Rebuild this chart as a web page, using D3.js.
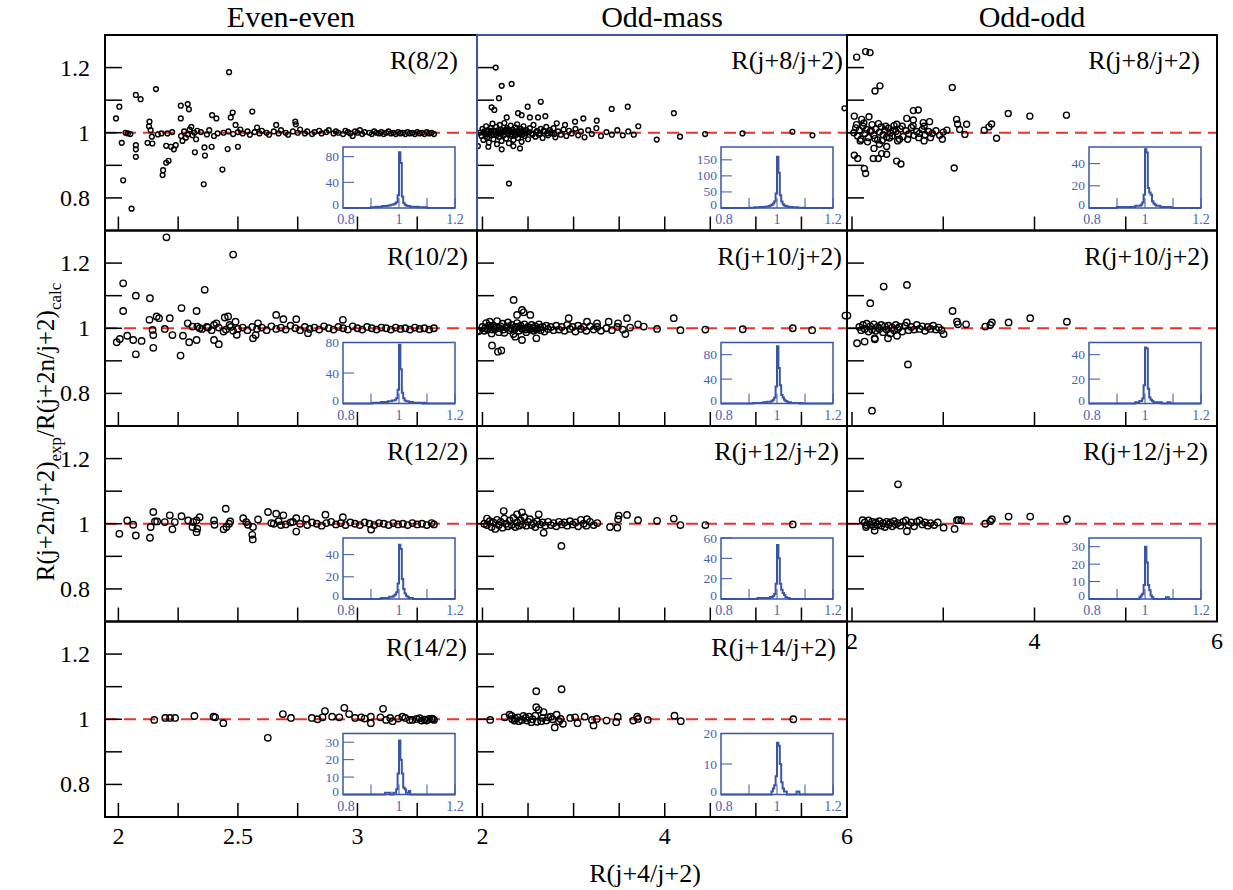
<!DOCTYPE html>
<html>
<head>
<meta charset="utf-8">
<script src="https://cdn.jsdelivr.net/npm/d3@7"></script>
<style>
  body { margin: 0; background: #fff; }
</style>
</head>
<body>
<svg id="chart" width="1233" height="890" font-family="'Liberation Serif', 'Times New Roman', 'DejaVu Serif', serif"></svg>
<script>
// ---- scatter data: [R(j+4/j+2), ratio exp/calc] ----
const evenEven8 = [
  [1.990,1.044],[2.004,1.080],[2.014,0.969],[2.020,0.854],[2.055,0.767],[2.030,1.000],[2.040,0.998],[2.050,0.996],
  [2.073,1.116],[2.093,1.103],[2.073,0.962],[2.073,0.949],[2.073,0.926],[2.122,0.969],[2.130,1.034],[2.128,1.020],
  [2.135,1.008],[2.140,0.988],[2.142,0.967],[2.157,1.134],[2.187,0.885],[2.185,0.870],[2.200,0.908],[2.210,0.914],
  [2.200,0.960],[2.220,0.957],[2.232,0.949],[2.240,0.962],[2.165,0.995],[2.180,0.998],[2.205,0.998],[2.225,1.002],
  [2.261,1.083],[2.261,1.044],[2.290,1.088],[2.295,1.072],[2.262,0.990],[2.268,0.975],[2.275,1.004],[2.282,0.985],
  [2.290,0.995],[2.298,1.010],[2.305,1.018],[2.310,0.992],[2.318,1.000],[2.325,0.980],[2.330,1.006],[2.320,0.940],
  [2.357,0.842],[2.360,0.955],[2.362,0.930],[2.390,0.957],[2.392,1.054],[2.410,1.044],[2.345,1.002],[2.370,0.995],
  [2.380,1.008],[2.400,0.990],[2.415,0.998],[2.435,0.887],[2.457,0.950],[2.463,1.186],[2.470,1.047],[2.478,1.062],
  [2.490,1.024],[2.500,0.957],[2.560,1.065],[2.580,1.016],[2.660,1.024],[2.740,1.034],[2.742,1.026],[2.980,0.990],
  [2.44,1.000],[2.46,1.004],[2.48,0.996],[2.50,1.002],[2.51,1.010],[2.52,0.998],[2.54,1.004],[2.55,0.994],
  [2.57,1.002],[2.59,0.998],[2.60,1.006],[2.62,1.000],[2.63,0.994],[2.65,1.004],[2.67,0.998],[2.68,1.008],
  [2.70,1.000],[2.71,0.994],[2.73,1.004],[2.75,1.000],[2.76,1.010],[2.78,0.998],[2.79,1.004],[2.81,0.996],
  [2.82,1.002],[2.84,1.006],[2.85,0.998],[2.87,1.002],[2.88,1.008],[2.90,0.998],[2.91,1.004],[2.92,1.000],
  [2.94,0.996],[2.95,1.006],[2.96,1.002],[2.97,0.998],[2.99,1.004],[3.00,1.000],[3.01,1.008],[3.02,0.996],
  [3.03,1.002],[3.05,1.000],[3.06,0.996],[3.07,1.004],[3.08,1.000],[3.09,0.998],[3.10,1.002],[3.11,0.996],
  [3.12,1.000],[3.13,1.004],[3.14,0.998],[3.15,1.000],[3.16,0.996],[3.17,1.002],[3.18,0.998],[3.19,1.000],
  [3.20,0.996],[3.21,1.002],[3.22,0.998],[3.23,1.000],[3.24,0.996],[3.25,1.002],[3.26,0.998],[3.27,1.000],
  [3.28,0.996],[3.29,1.002],[3.30,0.998],[3.31,1.000],[3.32,0.996]
];
const evenEven10 = [
  [2.201,1.279],[2.480,1.226],[2.020,1.138],[2.020,1.053],[2.073,1.100],[2.132,1.092],[2.361,1.118],[2.264,1.062],
  [2.327,1.053],[2.130,1.026],[2.160,1.036],[2.170,1.031],[2.215,1.031],[1.993,0.957],[2.006,0.967],[2.037,0.977],
  [2.062,0.964],[2.097,0.961],[2.073,0.920],[2.146,0.940],[2.143,0.995],[2.146,0.979],[2.194,0.998],[2.226,0.979],
  [2.260,0.916],[2.270,0.977],[2.296,0.957],[2.327,0.964],[2.290,1.015],[2.310,1.005],[2.330,1.005],[2.340,1.000],
  [2.375,1.002],[2.400,1.010],[2.410,1.015],[2.400,0.964],[2.420,0.951],[2.445,1.033],[2.459,1.036],[2.440,0.990],
  [2.465,1.010],[2.480,0.992],[2.490,1.020],[2.495,0.980],[2.563,0.969],[2.574,0.979],[2.584,1.015],[2.660,1.041],
  [2.690,1.028],[2.744,1.028],[2.793,0.985],[2.939,1.026],
  [2.35,0.998],[2.37,1.004],[2.39,0.994],[2.42,1.002],[2.45,0.996],[2.47,1.004],[2.50,0.998],[2.52,1.002],
  [2.54,0.994],[2.56,1.004],[2.58,0.998],[2.60,1.002],[2.62,0.994],[2.64,1.006],[2.66,0.998],[2.68,1.002],
  [2.70,0.996],[2.72,1.008],[2.74,1.000],[2.76,0.994],[2.78,1.004],[2.80,0.998],[2.82,1.002],[2.84,0.996],
  [2.86,1.006],[2.88,1.000],[2.90,0.996],[2.92,1.004],[2.94,1.000],[2.96,0.996],[2.98,1.006],[3.00,1.000],
  [3.02,0.996],[3.04,1.004],[3.06,1.000],[3.08,0.996],[3.10,1.002],[3.12,1.000],[3.14,0.996],[3.16,1.002],
  [3.18,0.998],[3.20,1.000],[3.22,0.996],[3.24,1.002],[3.26,0.998],[3.28,1.000],[3.30,0.996],[3.32,1.000]
];
const evenEven12 = [
  [2.004,0.969],[2.037,1.010],[2.062,0.997],[2.073,0.964],[2.132,0.957],[2.135,0.990],[2.146,1.036],[2.153,1.007],
  [2.162,1.007],[2.194,1.005],[2.215,1.026],[2.226,0.983],[2.236,1.005],[2.264,1.023],[2.292,1.010],[2.313,1.005],
  [2.327,1.010],[2.310,0.990],[2.327,0.974],[2.330,0.985],[2.340,1.020],[2.400,1.010],[2.402,0.997],[2.440,0.983],
  [2.452,0.990],[2.463,1.000],[2.468,1.007],[2.449,1.046],[2.522,1.017],[2.535,1.005],[2.542,0.997],[2.563,0.990],
  [2.560,0.966],[2.562,0.952],[2.584,1.013],[2.626,1.036],[2.660,1.031],[2.690,1.026],[2.650,1.000],[2.670,1.008],
  [2.700,0.998],[2.720,1.004],[2.744,0.976],[2.744,1.017],[2.786,1.015],[2.866,1.028],[2.939,1.020],[3.057,0.982],
  [2.64,1.002],[2.68,0.996],[2.73,1.006],[2.76,1.000],[2.79,0.996],[2.81,1.004],[2.83,1.000],[2.85,0.994],
  [2.87,1.002],[2.89,1.006],[2.91,0.998],[2.93,1.002],[2.95,0.996],[2.97,1.004],[2.99,1.000],[3.01,0.996],
  [3.03,1.004],[3.05,1.000],[3.07,0.996],[3.09,1.002],[3.11,1.000],[3.13,0.996],[3.15,1.002],[3.17,0.998],
  [3.19,1.000],[3.21,0.996],[3.23,1.002],[3.25,0.998],[3.27,1.000],[3.29,0.996],[3.31,1.002],[3.32,0.998]
];
const evenEven14 = [
  [2.150,0.998],[2.196,1.004],[2.216,1.004],[2.237,1.004],[2.318,1.010],[2.398,1.008],[2.405,1.006],[2.439,0.988],
  [2.625,0.943],[2.688,1.016],[2.722,1.004],[2.809,1.004],[2.833,1.000],[2.854,1.006],[2.864,1.025],[2.894,1.008],
  [2.924,1.006],[2.945,1.035],[2.965,1.016],[3.016,1.006],[3.056,1.008],[3.056,0.988],[3.096,1.006],[3.107,1.032],
  [3.137,1.004],[3.147,0.994],[3.188,1.008],[3.218,0.998],[3.248,1.001],[3.268,0.996],[3.299,1.001],
  [2.990,1.004],[3.030,1.002],[3.120,0.998],[3.170,1.002],[3.200,1.004],[3.230,0.998],[3.260,1.003],[3.280,0.999],
  [3.290,0.996],[3.310,1.002],[3.320,0.998],[3.315,1.001]
];
const oddMass8 = [
  [1.950,0.959],[2.145,1.200],[2.211,1.144],[2.320,1.150],[2.181,1.106],[2.100,1.078],[2.130,1.070],[2.280,1.010],
  [2.266,1.047],[2.390,1.060],[2.430,1.054],[2.496,1.080],[2.640,1.095],[2.520,1.047],[2.610,1.047],[2.690,1.051],
  [2.815,1.029],[2.906,1.024],[3.016,1.034],[3.107,1.044],[3.254,1.037],[3.418,1.073],[3.594,1.080],[3.710,1.020],
  [4.100,1.060],[2.291,0.844],[2.064,0.957],[2.211,0.949],[2.339,0.959],[2.412,0.952],[3.912,0.979],[4.168,0.988],
  [4.443,0.996],[4.853,0.998],[5.401,1.003],[5.621,0.992],[5.972,1.075],
  [1.97,1.000],[1.99,0.990],[2.00,1.012],[2.01,0.978],[2.02,1.004],[2.03,0.996],[2.04,1.020],[2.05,0.985],
  [2.06,1.008],[2.07,0.970],[2.08,1.000],[2.09,1.015],[2.10,0.992],[2.11,1.028],[2.12,0.980],[2.13,1.006],
  [2.14,0.996],[2.15,1.018],[2.16,0.965],[2.17,1.002],[2.18,0.988],[2.19,1.024],[2.20,1.010],[2.21,0.975],
  [2.22,1.000],[2.23,0.992],[2.24,1.030],[2.25,1.008],[2.26,0.982],[2.27,1.014],[2.28,0.996],[2.29,0.968],
  [2.30,1.004],[2.31,1.022],[2.32,0.990],[2.33,1.010],[2.34,0.978],[2.35,1.000],[2.36,1.016],[2.37,0.994],
  [2.38,1.026],[2.39,0.984],[2.40,1.006],[2.41,0.996],[2.42,1.012],[2.43,0.972],[2.44,1.002],[2.45,1.020],
  [2.46,0.990],[2.48,1.008],[2.50,0.980],[2.52,1.014],[2.54,0.998],[2.56,1.024],[2.58,0.988],[2.60,1.006],
  [2.62,0.994],[2.64,1.012],[2.66,0.984],[2.68,1.004],[2.70,1.018],[2.72,0.992],[2.74,1.008],[2.76,0.998],
  [2.78,1.014],[2.80,0.986],[2.83,1.004],[2.86,0.994],[2.89,1.010],[2.92,0.990],[2.95,1.006],[2.98,0.998],
  [3.02,1.012],[3.05,0.992],[3.08,1.004],[3.12,0.986],[3.16,1.008],[3.20,0.996],[3.25,1.014],[3.30,0.990],
  [3.36,1.002],[3.42,0.994],[3.48,1.008],[3.54,0.992],[3.60,1.004],[3.66,0.994],
  [2.015,1.002],[2.035,0.990],[2.055,1.004],[2.075,0.998],[2.095,1.006],[2.115,0.996],[2.135,1.002],[2.155,0.992],
  [2.175,1.008],[2.195,0.998],[2.215,1.004],[2.235,0.994],[2.255,1.002],[2.275,0.998],[2.295,1.006],[2.315,0.996],
  [2.335,1.002],[2.355,0.992],[2.375,1.004],[2.395,0.998],[2.415,1.002],[2.435,0.994],[2.455,1.006],[2.475,0.998],
  [2.51,1.002],[2.55,0.994],[2.59,1.002],[2.63,0.998],[2.67,1.006],[2.71,0.998],[2.75,1.002],[2.79,0.996]
];
const oddMass10 = [
  [1.940,0.990],[1.966,0.992],[2.342,1.087],[2.434,1.056],[2.452,1.049],[2.379,1.041],[2.525,1.041],[2.105,0.947],
  [2.170,0.928],[2.207,0.932],[2.360,0.974],[2.434,0.964],[2.591,0.969],[2.946,1.031],[3.147,1.020],[3.257,1.015],
  [3.385,1.020],[3.488,1.015],[3.586,1.031],[3.707,1.012],[3.568,0.982],[3.770,1.005],[3.916,0.998],[4.099,1.031],
  [4.172,0.994],[4.446,0.996],[4.856,0.997],[5.405,1.000],[5.617,0.994],[5.983,1.039],
  [2.00,1.004],[2.02,0.992],[2.04,1.016],[2.06,0.996],[2.08,1.020],[2.10,0.984],[2.12,1.008],[2.14,0.998],
  [2.16,1.022],[2.18,0.988],[2.20,1.006],[2.22,1.014],[2.24,0.986],[2.26,1.002],[2.28,1.018],[2.30,0.994],
  [2.32,1.010],[2.34,0.982],[2.36,1.004],[2.38,1.016],[2.40,0.992],[2.42,1.008],[2.44,0.998],[2.46,1.012],
  [2.48,0.988],[2.50,1.004],[2.52,0.996],[2.54,1.010],[2.56,0.992],[2.58,1.006],[2.60,0.998],[2.62,1.012],
  [2.64,0.994],[2.66,1.004],[2.68,0.990],[2.70,1.008],[2.72,0.998],[2.75,1.004],[2.78,0.994],[2.81,1.008],
  [2.84,0.996],[2.87,1.004],[2.90,0.992],[2.93,1.010],[2.96,0.998],[2.99,1.004],[3.02,0.990],[3.05,1.008],
  [3.08,0.998],[3.11,1.004],[3.14,0.992],[3.18,1.006],[3.22,0.996],[3.26,1.004],[3.30,0.992],[3.36,1.000],
  [3.42,0.994],[3.48,1.004],[3.54,0.996],[3.62,1.002],
  [2.03,1.000],[2.07,1.008],[2.11,0.996],[2.15,1.004],[2.19,1.000],[2.23,0.996],[2.27,1.006],[2.31,1.000],
  [2.35,0.996],[2.39,1.004],[2.43,1.000],[2.47,0.996],[2.51,1.002],[2.55,1.000],[2.59,0.996],[2.63,1.002]
];
const oddMass12 = [
  [2.050,1.016],[2.233,1.039],[2.434,1.035],[2.379,1.029],[2.617,1.029],[2.672,0.972],[2.866,0.932],[3.147,1.014],
  [3.495,1.025],[3.586,1.027],[3.488,1.014],[3.707,1.011],[3.916,1.009],[4.099,1.016],[4.172,0.996],[4.446,0.996],
  [5.405,0.998],[3.400,0.990],[3.480,0.988],
  [2.02,1.000],[2.05,0.996],[2.08,1.008],[2.10,0.990],[2.12,1.004],[2.14,0.984],[2.16,1.012],[2.18,0.996],
  [2.20,1.006],[2.22,0.988],[2.24,1.016],[2.26,1.000],[2.28,0.992],[2.30,1.010],[2.32,0.996],[2.34,1.018],
  [2.36,0.990],[2.38,1.004],[2.40,0.994],[2.42,1.010],[2.44,0.998],[2.46,1.020],[2.48,0.994],[2.50,1.006],
  [2.52,1.014],[2.54,0.996],[2.56,1.002],[2.58,0.990],[2.60,1.008],[2.63,0.998],[2.66,1.004],[2.69,0.994],
  [2.72,1.006],[2.75,0.996],[2.78,1.002],[2.81,0.992],[2.84,1.006],[2.87,0.998],[2.90,1.004],[2.93,0.994],
  [2.96,1.008],[2.99,0.998],[3.02,1.004],[3.05,0.992],[3.08,1.012],[3.11,1.000],[3.14,0.994],[3.18,1.006],
  [3.22,0.996],[3.26,1.002]
];
const oddMass14 = [
  [2.085,0.998],[2.244,1.006],[2.298,1.014],[2.324,1.001],[2.350,0.996],[2.388,1.006],[2.431,0.998],[2.473,1.004],
  [2.511,1.008],[2.537,0.991],[2.580,1.011],[2.590,1.037],[2.617,1.029],[2.644,0.994],[2.670,1.022],[2.724,1.006],
  [2.750,1.008],[2.793,0.975],[2.814,1.014],[2.857,1.001],[2.883,0.986],[2.590,1.086],[2.868,1.092],[2.963,1.004],
  [3.016,1.006],[3.043,0.988],[3.122,1.008],[3.202,0.998],[3.219,0.981],[3.255,1.001],[3.362,0.996],[3.468,0.991],
  [3.484,1.008],[3.655,0.996],[3.697,1.008],[3.707,1.001],[3.814,0.998],[4.107,1.011],[4.176,0.994],[5.411,1.000],
  [2.32,1.010],[2.36,1.002],[2.40,0.994],[2.45,1.010],[2.49,0.996],[2.55,1.000],[2.60,0.992],[2.66,1.004],
  [2.70,0.996],[2.77,1.000],[2.84,0.994]
];
const oddOdd8 = [
  [2.051,1.232],[2.149,1.249],[2.197,1.246],[2.252,1.128],[2.306,1.144],[3.099,1.139],[2.025,1.051],[2.106,1.041],
  [2.186,1.049],[2.672,1.068],[2.726,1.070],[2.600,1.044],[2.672,1.039],[2.780,1.031],[2.850,1.034],[3.146,1.041],
  [3.157,1.027],[3.256,1.026],[3.180,1.010],[3.237,0.995],[3.449,1.008],[3.500,1.018],[3.530,1.027],[3.584,0.983],
  [3.712,1.059],[3.949,1.051],[4.350,1.054],[2.025,0.931],[2.062,0.921],[2.135,0.890],[2.149,0.875],[2.233,0.921],
  [2.288,0.921],[2.325,0.936],[2.380,0.934],[2.240,0.952],[2.300,0.965],[2.380,0.958],[2.489,0.913],[2.536,0.904],
  [3.120,0.892],[2.790,0.975],[2.990,0.980],[2.500,0.975],[2.520,0.980],
  [2.02,1.000],[2.04,1.015],[2.06,0.990],[2.08,1.008],[2.10,0.980],[2.12,1.020],[2.14,0.998],[2.16,1.010],
  [2.18,0.985],[2.20,1.004],[2.22,1.025],[2.24,0.992],[2.26,1.012],[2.28,0.978],[2.30,1.002],[2.32,1.018],
  [2.34,0.994],[2.36,1.008],[2.38,0.986],[2.40,1.014],[2.42,1.000],[2.44,0.990],[2.46,1.022],[2.48,1.004],
  [2.50,0.996],[2.53,1.012],[2.56,0.988],[2.59,1.006],[2.62,0.996],[2.65,1.016],[2.68,0.992],[2.71,1.004],
  [2.74,0.998],[2.77,1.010],[2.80,0.994],[2.84,1.004],[2.88,0.998],[2.92,1.006],[2.96,0.992],[3.00,1.002],
  [3.04,1.008],[2.05,1.025],[2.09,0.975],[2.13,1.030],[2.17,0.972],[2.21,1.006],[2.25,0.982],[2.29,1.028],
  [2.33,0.976],[2.37,1.020],[2.41,0.984],[2.45,1.008],[2.49,1.026],[2.55,1.020],[2.61,0.980],[2.67,1.022],
  [2.73,0.985],[2.79,1.020],[2.86,0.985]
];
const oddOdd10 = [
  [1.950,1.039],[2.347,1.128],[2.602,1.133],[2.200,1.077],[3.102,1.053],[2.055,0.954],[2.138,0.959],[2.248,0.969],
  [2.250,0.966],[2.394,0.969],[2.493,0.977],[2.613,0.889],[2.219,0.747],[3.150,1.020],[3.160,1.012],[3.250,1.012],
  [3.004,0.982],[3.460,1.005],[3.515,1.010],[3.533,1.018],[3.716,1.018],[3.953,1.031],[4.355,1.020],
  [2.08,1.004],[2.10,0.994],[2.12,1.010],[2.14,0.998],[2.16,1.014],[2.18,0.990],[2.20,1.006],[2.22,0.996],
  [2.24,1.012],[2.26,0.992],[2.28,1.004],[2.30,0.998],[2.32,1.010],[2.34,0.988],[2.36,1.006],[2.38,0.996],
  [2.40,1.008],[2.42,0.984],[2.44,1.002],[2.46,0.994],[2.48,1.010],[2.50,0.998],[2.52,1.004],[2.55,0.990],
  [2.58,1.008],[2.60,1.018],[2.62,0.994],[2.65,1.004],[2.68,0.996],[2.71,1.010],[2.74,0.998],[2.77,1.006],
  [2.80,0.992],[2.83,1.004],[2.86,0.998],[2.89,1.008],[2.92,0.996],[2.95,1.002],[2.98,0.994]
];
const oddOdd12 = [
  [2.504,1.121],[2.116,1.011],[2.153,0.990],[2.248,0.979],[2.602,0.977],[3.004,0.988],[3.124,0.984],[3.150,1.011],
  [3.168,1.011],[3.197,1.011],[3.460,1.000],[3.515,1.008],[3.533,1.014],[3.716,1.022],[3.953,1.022],[4.355,1.014],
  [2.14,1.004],[2.16,0.996],[2.18,1.010],[2.20,0.998],[2.22,1.006],[2.24,0.992],[2.26,1.004],[2.28,0.998],
  [2.30,1.008],[2.32,0.994],[2.34,1.002],[2.36,0.990],[2.38,1.006],[2.40,0.998],[2.42,1.004],[2.44,0.992],
  [2.46,1.008],[2.48,0.998],[2.50,1.002],[2.53,0.994],[2.56,1.006],[2.59,1.010],[2.62,0.996],[2.65,1.004],
  [2.68,0.992],[2.71,1.006],[2.74,1.010],[2.77,0.998],[2.80,1.004],[2.83,0.994],[2.86,1.002],[2.90,0.996],
  [2.94,1.004]
];

// ---- inset histograms: counts in bins of 0.005 from 0.900 to 1.100 ----
const HIST_START = 0.9, HIST_BIN = 0.005;
const histEE8  = [1,1,1,2,1,2,2,2,3,3, 3,3,4,4,5,5,6,7,9,20, 87,70,18,8,5,4,3,3,2,2, 2,2,1,2,1,1,1,1,1,1];
const histEE10 = [0,1,1,1,1,1,1,2,1,2, 2,2,3,3,3,4,4,5,7,18, 77,45,14,7,4,3,3,2,2,2, 1,1,1,1,1,1,1,0,1,0];
const histEE12 = [0,0,0,0,0,0,0,1,1,1, 1,1,1,2,2,2,3,4,6,14, 49,45,18,9,5,3,2,1,1,1, 0,0,0,0,0,0,0,0,0,0];
const histEE14 = [0,0,0,0,0,0,0,0,0,0, 1,1,1,1,0,0,1,1,3,12, 31,20,12,4,3,1,1,2,0,0, 0,0,0,0,0,0,0,0,0,0];
const histOM8  = [1,1,1,1,2,2,2,2,3,3, 3,4,4,5,6,8,10,14,20,45, 160,110,40,20,12,8,6,5,4,3, 3,2,2,2,2,1,1,1,1,1];
const histOM10 = [0,0,0,1,1,1,1,1,1,1, 2,2,2,3,3,3,4,6,10,28, 94,58,30,14,10,6,4,3,2,2, 1,1,1,1,1,1,0,1,0,0];
const histOM12 = [0,0,0,0,0,0,1,1,1,1, 1,1,1,1,1,2,2,3,5,15, 53,40,15,9,6,4,2,1,1,0, 0,0,0,0,0,0,0,0,0,0];
const histOM14 = [0,0,0,0,0,0,0,0,0,0, 0,0,0,0,0,0,1,2,3,6, 17,16,10,4,2,1,1,0,0,0, 0,0,0,0,1,1,0,0,0,0];
const histOO8  = [1,1,1,1,1,1,1,1,1,1, 1,1,1,2,2,2,2,3,5,12, 53,50,18,14,12,6,4,3,2,2, 2,1,1,1,1,1,1,1,1,0];
const histOO10 = [0,0,0,0,0,0,0,0,0,0, 0,0,0,1,1,1,2,2,4,15, 46,45,12,5,3,2,1,1,1,1, 1,1,0,0,0,0,1,1,0,0];
const histOO12 = [0,0,0,0,0,0,0,0,0,0, 0,0,0,0,0,0,1,2,3,8, 30,21,8,5,2,1,0,0,0,0, 0,0,0,0,0,1,1,0,0,0];

// ---- axes ----
const columnTitles = ["Even-even", "Odd-mass", "Odd-odd"];
const xDomains = [[1.944, 3.5], [1.94, 6], [1.945, 6]];
const xTicks = [[2, 2.25, 2.5, 2.75, 3, 3.25, 3.5], [2, 2.5, 3, 3.5, 4, 4.5, 5, 5.5, 6], [2, 3, 4, 5, 6]];
const xTickLabels = [[2, 2.5, 3], [2, 4, 6], [2, 4, 6]];
const yDomain = [0.7, 1.3];
const yTicks = [0.8, 0.9, 1, 1.1, 1.2];
const yTickLabels = [0.8, 1, 1.2];
const insetXTicks = [0.9, 1, 1.1, 1.2];
const insetXLabels = [0.8, 1, 1.2];

const panels = [
  {row: 0, col: 0, label: "R(8/2)",       pts: evenEven8,  hist: histEE8,  hmax: 95,  hticks: [0, 40, 80]},
  {row: 0, col: 1, label: "R(j+8/j+2)",   pts: oddMass8,   hist: histOM8,  hmax: 190, hticks: [0, 50, 100, 150]},
  {row: 0, col: 2, label: "R(j+8/j+2)",   pts: oddOdd8,    hist: histOO8,  hmax: 55,  hticks: [0, 20, 40]},
  {row: 1, col: 0, label: "R(10/2)",      pts: evenEven10, hist: histEE10, hmax: 80,  hticks: [0, 40, 80]},
  {row: 1, col: 1, label: "R(j+10/j+2)",  pts: oddMass10,  hist: histOM10, hmax: 100, hticks: [0, 40, 80]},
  {row: 1, col: 2, label: "R(j+10/j+2)",  pts: oddOdd10,   hist: histOO10, hmax: 50,  hticks: [0, 20, 40]},
  {row: 2, col: 0, label: "R(12/2)",      pts: evenEven12, hist: histEE12, hmax: 55,  hticks: [0, 20, 40]},
  {row: 2, col: 1, label: "R(j+12/j+2)",  pts: oddMass12,  hist: histOM12, hmax: 60,  hticks: [0, 20, 40, 60]},
  {row: 2, col: 2, label: "R(j+12/j+2)",  pts: oddOdd12,   hist: histOO12, hmax: 35,  hticks: [0, 10, 20, 30]},
  {row: 3, col: 0, label: "R(14/2)",      pts: evenEven14, hist: histEE14, hmax: 35,  hticks: [0, 10, 20, 30]},
  {row: 3, col: 1, label: "R(j+14/j+2)",  pts: oddMass14,  hist: histOM14, hmax: 20,  hticks: [0, 10, 20]}
];

// ---- layout ----
const COL_LEFT = [105, 477, 847];
const COL_W = [372, 370, 370];
const ROW_TOP = 35, ROW_H = 195.5;
const INSET_DX = [238, 244, 242], INSET_DY = 112, INSET_W = 112, INSET_H = 61;
const LABEL_PAD = [[19, 4, 17], [9, 5, 8], [9, 8, 9], [10, 11, 0]];
const BLUE = "#3a55a6", BLUE_TEXT = "#4a63b0", RED = "#e8322c";

const svg = d3.select("#chart");

columnTitles.forEach((t, c) => {
  svg.append("text")
    .attr("x", COL_LEFT[c] + COL_W[c] / 2).attr("y", 27)
    .attr("text-anchor", "middle").attr("font-size", 30).text(t);
});

panels.forEach(p => {
  const x0 = COL_LEFT[p.col], y0 = ROW_TOP + p.row * ROW_H;
  const w = COL_W[p.col], h = ROW_H;
  const x = d3.scaleLinear().domain(xDomains[p.col]).range([x0, x0 + w]);
  const y = d3.scaleLinear().domain(yDomain).range([y0 + h, y0]);
  const g = svg.append("g");

  const clipId = "clip" + p.row + p.col;
  g.append("clipPath").attr("id", clipId)
    .append("rect").attr("x", x0).attr("y", y0).attr("width", w).attr("height", h);

  // reference line at 1
  g.append("line")
    .attr("x1", x0).attr("x2", x0 + w).attr("y1", y(1)).attr("y2", y(1))
    .attr("stroke", RED).attr("stroke-width", 2).attr("stroke-dasharray", "12,7");

  // points
  const r = (p.row === 0 && p.col < 2) ? 2.4 : (p.row === 0 ? 3.0 : 3.2);
  g.append("g").attr("clip-path", `url(#${clipId})`)
    .selectAll("circle").data(p.pts).enter().append("circle")
    .attr("cx", d => x(d[0])).attr("cy", d => y(d[1])).attr("r", r)
    .attr("fill", "none").attr("stroke", "#000").attr("stroke-width", 1.4);

  // y ticks (inside, left)
  g.selectAll(".yt").data(yTicks).enter().append("line")
    .attr("x1", x0).attr("x2", x0 + 17).attr("y1", d => y(d)).attr("y2", d => y(d))
    .attr("stroke", "#000").attr("stroke-width", 1.5);
  // x ticks (inside, bottom)
  g.selectAll(".xt").data(xTicks[p.col]).enter().append("line")
    .attr("x1", d => x(d)).attr("x2", d => x(d)).attr("y1", y0 + h).attr("y2", y0 + h - 14)
    .attr("stroke", "#000").attr("stroke-width", 1.5);

  if (p.col === 0) {
    g.selectAll(".yl").data(yTickLabels).enter().append("text")
      .attr("x", 90).attr("y", d => y(d) + 8).attr("text-anchor", "end")
      .attr("font-size", 24).text(d => d);
  }
  const bottomRow = p.col === 2 ? 2 : 3;
  if (p.row === bottomRow) {
    g.selectAll(".xl").data(xTickLabels[p.col]).enter().append("text")
      .attr("x", d => x(d)).attr("y", y0 + h + 27).attr("text-anchor", "middle")
      .attr("font-size", 24).text(d => d);
  }

  // frame
  g.append("rect").attr("x", x0).attr("y", y0).attr("width", w).attr("height", h)
    .attr("fill", "none").attr("stroke", "#000").attr("stroke-width", 2);
  if (p.row === 0 && p.col === 1) {
    g.append("path").attr("d", `M${x0},${y0 + h}V${y0}H${x0 + w}`)
      .attr("fill", "none").attr("stroke", BLUE).attr("stroke-width", 2);
  }

  // label
  g.append("text")
    .attr("x", x0 + w - LABEL_PAD[p.row][p.col]).attr("y", y0 + 34)
    .attr("text-anchor", "end").attr("font-size", 26).text(p.label);

  // inset histogram
  const ix0 = x0 + INSET_DX[p.col], iy0 = y0 + INSET_DY;
  const hx = d3.scaleLinear().domain([0.8, 1.2]).range([ix0, ix0 + INSET_W]);
  const hy = d3.scaleLinear().domain([0, p.hmax]).range([iy0 + INSET_H, iy0]);
  const ig = g.append("g");
  const steps = [{x: 0.8, c: 0}]
    .concat(p.hist.map((c, i) => ({x: HIST_START + i * HIST_BIN, c: c})))
    .concat([{x: HIST_START + p.hist.length * HIST_BIN, c: 0}, {x: 1.2, c: 0}]);
  ig.append("path").datum(steps)
    .attr("d", d3.line().x(d => hx(d.x)).y(d => hy(d.c)).curve(d3.curveStepAfter))
    .attr("fill", "none").attr("stroke", BLUE).attr("stroke-width", 2);
  ig.selectAll(".hxt").data(insetXTicks).enter().append("line")
    .attr("x1", d => hx(d)).attr("x2", d => hx(d))
    .attr("y1", iy0 + INSET_H).attr("y2", iy0 + INSET_H - 10)
    .attr("stroke", BLUE).attr("stroke-width", 1);
  ig.selectAll(".hyt").data(p.hticks.filter(v => v > 0)).enter().append("line")
    .attr("x1", ix0).attr("x2", ix0 + 11).attr("y1", d => hy(d)).attr("y2", d => hy(d))
    .attr("stroke", BLUE).attr("stroke-width", 1);
  ig.append("rect").attr("x", ix0).attr("y", iy0).attr("width", INSET_W).attr("height", INSET_H)
    .attr("fill", "none").attr("stroke", BLUE).attr("stroke-width", 1.5);
  ig.selectAll(".hxl").data(insetXLabels).enter().append("text")
    .attr("x", d => hx(d) + (d === 0.8 ? 3 : 0)).attr("y", iy0 + INSET_H + 16).attr("text-anchor", "middle")
    .attr("font-size", 14).attr("fill", BLUE_TEXT).text(d => d);
  ig.selectAll(".hyl").data(p.hticks).enter().append("text")
    .attr("x", ix0 - 4).attr("y", d => hy(d) + (d === 0 ? 1 : 4.5)).attr("text-anchor", "end")
    .attr("font-size", 13.5).attr("fill", BLUE_TEXT).text(d => d);
});

// axis titles
svg.append("text").attr("x", 645).attr("y", 882)
  .attr("text-anchor", "middle").attr("font-size", 26).text("R(j+4/j+2)");

const yt = svg.append("text")
  .attr("transform", "translate(54,432) rotate(-90)")
  .attr("text-anchor", "middle").attr("font-size", 25);
yt.append("tspan").text("R(j+2n/j+2)");
yt.append("tspan").attr("font-size", 17).attr("dy", 7).text("exp");
yt.append("tspan").attr("dy", -7).text("/R(j+2n/j+2)");
yt.append("tspan").attr("font-size", 17).attr("dy", 7).text("calc");
</script>
</body>
</html>
